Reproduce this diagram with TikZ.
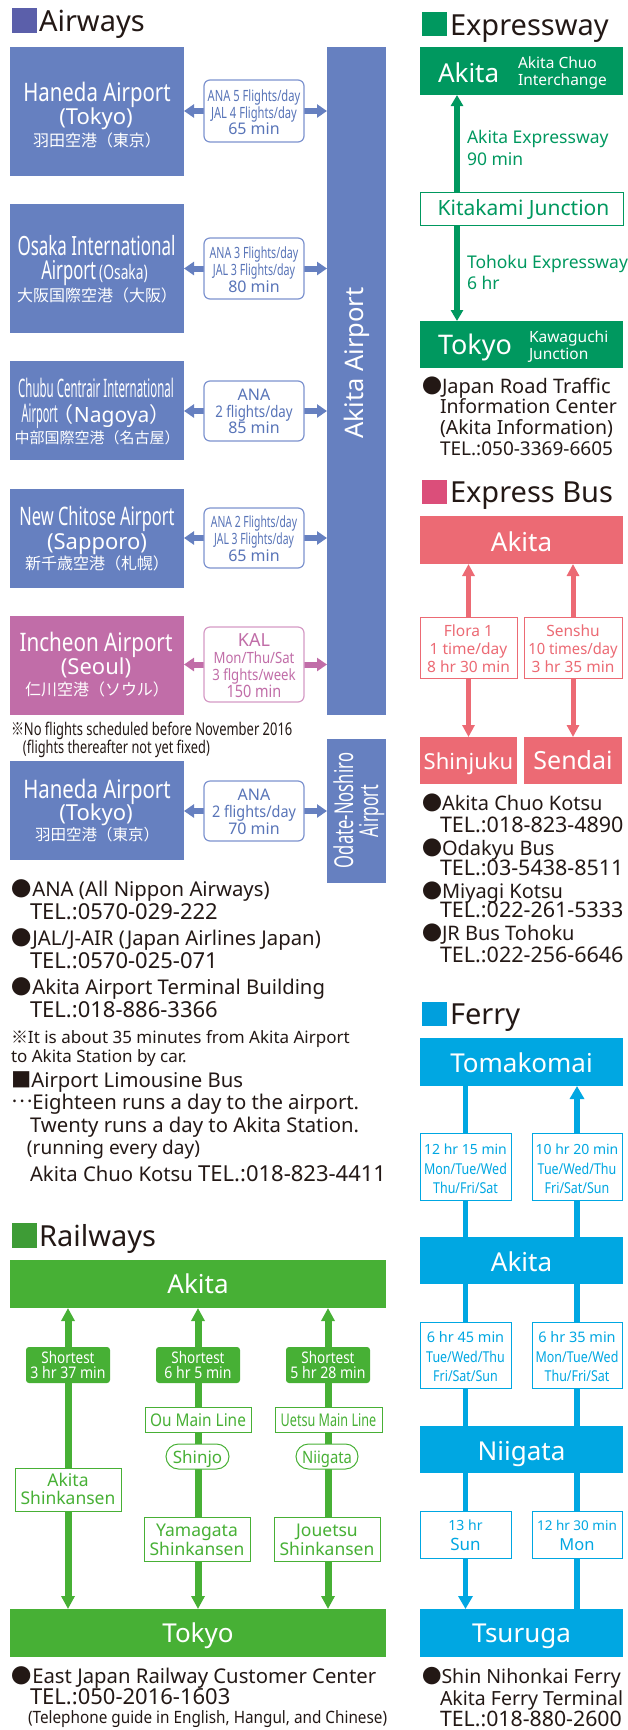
\documentclass[tikz,border=0pt]{standalone}
\usepackage{fontspec}
\usepackage{graphicx}
\setmainfont{Noto Sans}
\newfontfamily\jp{Noto Sans CJK JP}
\usetikzlibrary{arrows.meta}
\pgfdeclarelayer{bg}
\pgfsetlayers{bg,main}
\definecolor{ink}{HTML}{231815}
\definecolor{airsq}{HTML}{5B5FAA}
\definecolor{airblue}{HTML}{6680C0}
\definecolor{airline}{HTML}{7D93CF}
\definecolor{airtext}{HTML}{5874B8}
\definecolor{inch}{HTML}{C16DA8}
\definecolor{inchline}{HTML}{D59AC5}
\definecolor{exg}{HTML}{00985F}
\definecolor{bus}{HTML}{EC6A74}
\definecolor{bussq}{HTML}{DB4E7A}
\definecolor{ferry}{HTML}{00A7E2}
\definecolor{ferrysq}{HTML}{009FDD}
\definecolor{rail}{HTML}{47B035}
\definecolor{railsq}{HTML}{3E9C36}
\newcommand\fs[1]{\fontsize{#1}{#1}\selectfont}
\newcommand\hs[2]{\scalebox{#1}[1]{#2}}
\newcommand\bul{\smash{\jp ●}}
\tikzset{
 every node/.style={inner sep=0pt,outer sep=0pt},
 T/.style={anchor=base west,text=ink},
 C/.style={anchor=base},
 W/.style={anchor=base,text=white},
 box/.style={anchor=north west,fill=#1},
 obox/.style={anchor=north west,fill=white,draw=#1,line width=1pt},
 ibox/.style={anchor=north west,fill=white,draw=#1,line width=1.2pt,rounded corners=6pt},
 sq/.style={anchor=north west,fill=#1,minimum width=25pt,minimum height=24pt},
 airarr/.style={line width=6pt,draw=#1,{Triangle[width=13pt,length=10pt]}-{Triangle[width=13pt,length=10pt]}},
 exarr/.style={line width=6pt,draw=exg},
 busarr/.style={line width=5pt,draw=bus,{Triangle[width=12pt,length=12pt]}-{Triangle[width=12pt,length=12pt]}},
 ferryline/.style={line width=5.5pt,draw=ferry},
 railarr/.style={line width=7pt,draw=rail,{Triangle[width=13pt,length=13pt]}-{Triangle[width=13pt,length=13pt]}},
}
\begin{document}
\begin{tikzpicture}[x=1pt,y=-1pt]
\useasboundingbox (0,0) rectangle (627,1730);
% ================= Airways =================
\node[sq=airsq,minimum height=25pt] (airsq) at (12,8) {};
\node[T,font=\fs{29}] (airh) at (39,31) {Airways};
\node[box=airblue,minimum width=59pt,minimum height=668pt] (akbar) at (327,47) {};
\node[W,rotate=90,font=\fs{25.5}] (akbart) at (363,363) {Akita Airport};
\node[box=airblue,minimum width=59pt,minimum height=144pt] (odbar) at (327,739) {};
\node[W,rotate=90,font=\fs{26}] (odbart1) at (353,810.5) {\hs{0.64}{Odate-Noshiro}};
\node[W,rotate=90,font=\fs{26}] (odbart2) at (378,811) {\hs{0.61}{Airport}};
% Haneda
\node[box=airblue,minimum width=174pt,minimum height=129pt] (hnd) at (10,47) {};
\node[W,font=\fs{25.5}] (hnd1) at (97,101) {\hs{0.80}{Haneda Airport}};
\node[W,font=\fs{22}] (hnd2) at (96,124) {(Tokyo)};
\node[W,font=\jp\fs{16}] (hnd3) at (97,146) {羽田空港（東京）};
% Osaka
\node[box=airblue,minimum width=174pt,minimum height=129pt] (osk) at (10,204) {};
\node[W,font=\fs{26.5}] (osk1) at (96.5,255) {\hs{0.64}{Osaka International}};
\node[W] (osk2) at (94.5,279) {{\fs{26}\hs{0.64}{Airport}}\hspace{3pt}{\fs{20}\hs{0.69}{(Osaka)}}};
\node[W,font=\jp\fs{16}] (osk3) at (97,301.5) {大阪国際空港（大阪）};
% Chubu
\node[box=airblue,minimum width=174pt,minimum height=99pt] (chb) at (10,361) {};
\node[W,font=\fs{25.5}] (chb1) at (96,397) {\hs{0.45}{Chubu Centrair International}};
\node[W] (chb2) at (96,422) {{\fs{25.5}\hs{0.43}{Airport}}{\jp\fs{21}\hspace{-5pt}\smash{（}}{\fs{21}Nagoya}{\jp\fs{21}\smash{）}}};
\node[W,font=\jp\fs{15}] (chb3) at (97,443.5) {中部国際空港（名古屋）};
% New Chitose
\node[box=airblue,minimum width=174pt,minimum height=99pt] (nct) at (10,489) {};
\node[W,font=\fs{25.5}] (nct1) at (97,525) {\hs{0.645}{New Chitose Airport}};
\node[W,font=\fs{22}] (nct2) at (97,549) {(Sapporo)};
\node[W,font=\jp\fs{16}] (nct3) at (97,569.5) {新千歳空港（札幌）};
% Incheon
\node[box=inch,minimum width=174pt,minimum height=99pt] (inc) at (10,616) {};
\node[W,font=\fs{25.5}] (inc1) at (96,651) {\hs{0.81}{Incheon Airport}};
\node[W,font=\fs{22}] (inc2) at (96,674) {(Seoul)};
\node[W,font=\jp\fs{16}] (inc3) at (97,695.5) {仁川空港（ソウル）};
% Haneda 2
\node[box=airblue,minimum width=174pt,minimum height=99pt] (hnb) at (10,761) {};
\node[W,font=\fs{25.5}] (hnb1) at (97,798) {\hs{0.80}{Haneda Airport}};
\node[W,font=\fs{22}] (hnb2) at (96,820) {(Tokyo)};
\node[W,font=\jp\fs{15.5}] (hnb3) at (97,840.5) {羽田空港（東京）};
% info boxes
\node[ibox=airline,minimum width=100pt,minimum height=62pt] (inf1) at (204,80) {};
\node[C,text=airtext,font=\fs{15.5}] (inf1a) at (254,101) {\hs{0.72}{ANA 5 Flights/day}};
\node[C,text=airtext,font=\fs{15.5}] (inf1b) at (254,118) {\hs{0.72}{JAL 4 Flights/day}};
\node[C,text=airtext,font=\fs{16}] (inf1c) at (254,134) {65 min};
\node[ibox=airline,minimum width=100pt,minimum height=61pt] (inf2) at (204,238) {};
\node[C,text=airtext,font=\fs{15.5}] (inf2a) at (254,258) {\hs{0.69}{ANA 3 Flights/day}};
\node[C,text=airtext,font=\fs{15.5}] (inf2b) at (254,275) {\hs{0.69}{JAL 3 Flights/day}};
\node[C,text=airtext,font=\fs{16}] (inf2c) at (254,292) {80 min};
\node[ibox=airline,minimum width=100pt,minimum height=60pt] (inf3) at (204,381) {};
\node[C,text=airtext,font=\fs{16}] (inf3a) at (254,400) {ANA};
\node[C,text=airtext,font=\fs{16}] (inf3b) at (254,417) {\hs{0.83}{2 flights/day}};
\node[C,text=airtext,font=\fs{16}] (inf3c) at (254,433) {85 min};
\node[ibox=airline,minimum width=100pt,minimum height=60pt] (inf4) at (204,508) {};
\node[C,text=airtext,font=\fs{15.5}] (inf4a) at (254,527) {\hs{0.67}{ANA 2 Flights/day}};
\node[C,text=airtext,font=\fs{15.5}] (inf4b) at (254,544) {\hs{0.67}{JAL 3 Flights/day}};
\node[C,text=airtext,font=\fs{16}] (inf4c) at (254,561) {65 min};
\node[ibox=inchline,minimum width=100pt,minimum height=75pt] (inf5) at (204,627) {};
\node[C,text=inch,font=\fs{18}] (inf5a) at (254,646) {KAL};
\node[C,text=inch,font=\fs{15.5}] (inf5b) at (254,663) {\hs{0.85}{Mon/Thu/Sat}};
\node[C,text=inch,font=\fs{15.5}] (inf5c) at (254,680) {\hs{0.85}{3 flghts/week}};
\node[C,text=inch,font=\fs{17}] (inf5d) at (254,697) {\hs{0.85}{150 min}};
\node[ibox=airline,minimum width=100pt,minimum height=60pt] (inf6) at (204,781) {};
\node[C,text=airtext,font=\fs{16}] (inf6a) at (254,800) {ANA};
\node[C,text=airtext,font=\fs{16}] (inf6b) at (254,817) {\hs{0.9}{2 flights/day}};
\node[C,text=airtext,font=\fs{16}] (inf6c) at (254,834) {70 min};
% notes
\node[T,font=\fs{17.5}] (note1) at (11,735) {\hs{0.74}{{\jp ※}No flights scheduled before November 2016}};
\node[T,font=\fs{17.5}] (note2) at (23,753) {\hs{0.73}{(flights thereafter not yet fixed)}};
% contacts
\node[T,font=\fs{20.3}] (c1) at (12,896) {\bul ANA (All Nippon Airways)};
\node[T,font=\fs{22}] (c2) at (30,919) {TEL.:0570-029-222};
\node[T,font=\fs{20.3}] (c3) at (12,945) {\bul JAL/J-AIR (Japan Airlines Japan)};
\node[T,font=\fs{22}] (c4) at (30,968) {TEL.:0570-025-071};
\node[T,font=\fs{20.3}] (c5) at (12,994) {\bul Akita Airport Terminal Building};
\node[T,font=\fs{22}] (c6) at (30,1017) {TEL.:018-886-3366};
\node[T,font=\fs{17}] (c7) at (11,1043) {{\jp ※}It is about 35 minutes from Akita Airport};
\node[T,font=\fs{17}] (c8) at (11,1062) {to Akita Station by car.};
\node[T,font=\fs{20.3}] (c9) at (11,1087) {{\jp ■}Airport Limousine Bus};
\node[T,font=\fs{20.3}] (c10) at (11,1109) {{\jp\raisebox{0.3em}{…}}Eighteen runs a day to the airport.};
\node[T,font=\fs{20.3}] (c11) at (30,1132) {Twenty runs a day to Akita Station.};
\node[T,font=\fs{19}] (c12) at (27,1154) {(running every day)};
\node[T,font=\fs{20.3}] (c13) at (30,1181) {Akita Chuo Kotsu {\fs{22}TEL.:018-823-4411}};
% ================= Railways =================
\node[sq=railsq,minimum height=25pt] (railsq) at (12,1223) {};
\node[T,font=\fs{29}] (railh) at (39,1246) {Railways};
\node[box=rail,minimum width=376pt,minimum height=48pt] (rak) at (10,1260) {};
\node[W,font=\fs{26}] (rakt) at (198,1293) {Akita};
\node[box=rail,minimum width=376pt,minimum height=48pt] (rtk) at (10,1609) {};
\node[W,font=\fs{26}] (rtkt) at (198,1642) {Tokyo};
\node[box=rail,rounded corners=3pt,minimum width=84pt,minimum height=36pt] (sh1) at (26,1347) {};
\node[box=rail,rounded corners=3pt,minimum width=84pt,minimum height=36pt] (sh2) at (156,1347) {};
\node[box=rail,rounded corners=3pt,minimum width=84pt,minimum height=36pt] (sh3) at (286,1347) {};
\node[W,font=\fs{16}] (sh1a) at (68,1363) {\hs{0.84}{Shortest}};
\node[W,font=\fs{16}] (sh1b) at (68,1378) {\hs{0.88}{3 hr 37 min}};
\node[W,font=\fs{16}] (sh2a) at (198,1363) {\hs{0.84}{Shortest}};
\node[W,font=\fs{16}] (sh2b) at (198,1378) {\hs{0.88}{6 hr 5 min}};
\node[W,font=\fs{16}] (sh3a) at (328,1363) {\hs{0.84}{Shortest}};
\node[W,font=\fs{16}] (sh3b) at (328,1378) {\hs{0.88}{5 hr 28 min}};
\node[obox=rail,minimum width=106pt,minimum height=25pt] (ou) at (145,1407) {};
\node[C,text=rail,font=\fs{17.5}] (out) at (198,1426) {\hs{0.88}{Ou Main Line}};
\node[obox=rail,minimum width=107pt,minimum height=25pt] (ue) at (275,1407) {};
\node[C,text=rail,font=\fs{17.5}] (uet) at (328.5,1426) {\hs{0.72}{Uetsu Main Line}};
\node[obox=rail,rounded corners=12.5pt,minimum width=63pt,minimum height=25pt] (sj) at (166,1444) {};
\node[C,text=rail,font=\fs{17}] (sjt) at (197.5,1463) {Shinjo};
\node[obox=rail,rounded corners=12.5pt,minimum width=62pt,minimum height=25pt] (ng) at (296,1444) {};
\node[C,text=rail,font=\fs{17}] (ngt) at (327,1463) {\hs{0.87}{Niigata}};
\node[obox=rail,minimum width=106pt,minimum height=43pt] (aks) at (15,1468) {};
\node[C,text=rail,font=\fs{17.5}] (aks1) at (68,1486) {Akita};
\node[C,text=rail,font=\fs{17.5}] (aks2) at (68,1504) {Shinkansen};
\node[obox=rail,minimum width=106pt,minimum height=44pt] (yam) at (144,1517) {};
\node[C,text=rail,font=\fs{17.5}] (yam1) at (197,1536) {Yamagata};
\node[C,text=rail,font=\fs{17.5}] (yam2) at (197,1555) {Shinkansen};
\node[obox=rail,minimum width=106pt,minimum height=44pt] (jou) at (274,1517) {};
\node[C,text=rail,font=\fs{17.5}] (jou1) at (327,1536) {Jouetsu};
\node[C,text=rail,font=\fs{17.5}] (jou2) at (327,1555) {Shinkansen};
\node[T,font=\fs{20.3}] (r1) at (12,1683) {\bul East Japan Railway Customer Center};
\node[T,font=\fs{22}] (r2) at (30,1704) {TEL.:050-2016-1603};
\node[T,font=\fs{17}] (r3) at (28,1723) {\hs{0.9}{(Telephone guide in English, Hangul, and Chinese)}};
% ================= Expressway =================
\node[sq=exg] (exsq) at (422,12) {};
\node[T,font=\fs{29}] (exh) at (450,35) {Expressway};
\node[box=exg,minimum width=203pt,minimum height=48pt] (exak) at (420,47) {};
\node[T,text=white,font=\fs{26}] (exak1) at (438,82) {Akita};
\node[T,text=white,font=\fs{15.5}] (exak2) at (518,68) {Akita Chuo};
\node[T,text=white,font=\fs{15.5}] (exak3) at (518,85) {Interchange};
\node[obox=exg,minimum width=203pt,minimum height=33pt] (kit) at (420,192) {};
\node[C,text=exg,font=\fs{21}] (kitt) at (523.5,215) {Kitakami Junction};
\node[box=exg,minimum width=203pt,minimum height=47pt] (extk) at (420,321) {};
\node[T,text=white,font=\fs{27}] (extk1) at (438,354) {Tokyo};
\node[T,text=white,font=\fs{15.5}] (extk2) at (529,342) {Kawaguchi};
\node[T,text=white,font=\fs{15.5}] (extk3) at (529,359) {Junction};
\node[T,text=exg,font=\fs{17.5}] (exl1) at (467,143) {Akita Expressway};
\node[T,text=exg,font=\fs{17.5}] (exl2) at (467,165) {90 min};
\node[T,text=exg,font=\fs{17.5}] (exl3) at (467,268) {Tohoku Expressway};
\node[T,text=exg,font=\fs{17.5}] (exl4) at (467,289) {6 hr};
\node[T,font=\fs{20}] (e1) at (422,393) {\bul Japan Road Traffic};
\node[T,font=\fs{19.5}] (e2) at (440,413) {Information Center};
\node[T,font=\fs{19.5}] (e3) at (440,434) {(Akita Information)};
\node[T,font=\fs{19}] (e4) at (440,455) {TEL.:050-3369-6605};
% ================= Express Bus =================
\node[sq=bussq] (bussq) at (422,480) {};
\node[T,font=\fs{29}] (bush) at (450,502) {Express Bus};
\node[box=bus,minimum width=203pt,minimum height=48pt] (bak) at (420,516) {};
\node[W,font=\fs{26}] (bakt) at (521.5,551) {Akita};
\node[obox=bus,minimum width=97pt,minimum height=61pt] (bi1) at (420,617) {};
\node[obox=bus,minimum width=98pt,minimum height=61pt] (bi2) at (524,617) {};
\node[C,text=bus,font=\fs{15.5}] (bi1a) at (468.5,636) {Flora 1};
\node[C,text=bus,font=\fs{15.5}] (bi1b) at (468.5,654) {1 time/day};
\node[C,text=bus,font=\fs{15.5}] (bi1c) at (468.5,672) {8 hr 30 min};
\node[C,text=bus,font=\fs{15.5}] (bi2a) at (573,636) {Senshu};
\node[C,text=bus,font=\fs{15.5}] (bi2b) at (573,654) {\hs{0.95}{10 times/day}};
\node[C,text=bus,font=\fs{15.5}] (bi2c) at (573,672) {3 hr 35 min};
\node[box=bus,minimum width=97pt,minimum height=47pt] (shj) at (420,737) {};
\node[W,font=\fs{22}] (shjt) at (468.5,769) {Shinjuku};
\node[box=bus,minimum width=98pt,minimum height=47pt] (snd) at (524,737) {};
\node[W,font=\fs{25}] (sndt) at (573,769) {Sendai};
\node[T,font=\fs{20}] (b1) at (422,810) {\bul Akita Chuo Kotsu};
\node[T,font=\fs{21.5}] (b2) at (440,832) {TEL.:018-823-4890};
\node[T,font=\fs{20}] (b3) at (422,855) {\bul Odakyu Bus};
\node[T,font=\fs{21.5}] (b4) at (440,875) {TEL.:03-5438-8511};
\node[T,font=\fs{20}] (b5) at (422,898) {\bul Miyagi Kotsu};
\node[T,font=\fs{21.5}] (b6) at (440,917) {TEL.:022-261-5333};
\node[T,font=\fs{20}] (b7) at (422,940) {\bul JR Bus Tohoku};
\node[T,font=\fs{21.5}] (b8) at (440,962) {TEL.:022-256-6646};
% ================= Ferry =================
\node[sq=ferrysq] (fsq) at (422,1002) {};
\node[T,font=\fs{29}] (fh) at (450,1024) {Ferry};
\node[box=ferry,minimum width=203pt,minimum height=48pt] (tom) at (420,1038) {};
\node[W,font=\fs{26}] (tomt) at (521.5,1072) {Tomakomai};
\node[box=ferry,minimum width=203pt,minimum height=47pt] (fak) at (420,1237) {};
\node[W,font=\fs{26}] (fakt) at (521.5,1271) {Akita};
\node[box=ferry,minimum width=203pt,minimum height=47pt] (nii) at (420,1426) {};
\node[W,font=\fs{26}] (niit) at (521.5,1460) {Niigata};
\node[box=ferry,minimum width=203pt,minimum height=48pt] (tsu) at (420,1609) {};
\node[W,font=\fs{26}] (tsut) at (521.5,1642) {Tsuruga};
\node[obox=ferry,minimum width=91pt,minimum height=67pt] (f1l) at (420,1133) {};
\node[obox=ferry,minimum width=90pt,minimum height=67pt] (f1r) at (532,1133) {};
\node[obox=ferry,minimum width=91pt,minimum height=66pt] (f2l) at (420,1322) {};
\node[obox=ferry,minimum width=90pt,minimum height=66pt] (f2r) at (532,1322) {};
\node[obox=ferry,minimum width=91pt,minimum height=47pt] (f3l) at (420,1511) {};
\node[obox=ferry,minimum width=90pt,minimum height=47pt] (f3r) at (532,1511) {};
\node[C,text=ferry,font=\fs{14}] (f1la) at (465.5,1154) {12 hr 15 min};
\node[C,text=ferry,font=\fs{15}] (f1lb) at (465.5,1174) {\hs{0.83}{Mon/Tue/Wed}};
\node[C,text=ferry,font=\fs{15}] (f1lc) at (465.5,1193) {\hs{0.83}{Thu/Fri/Sat}};
\node[C,text=ferry,font=\fs{14}] (f1ra) at (577,1154) {10 hr 20 min};
\node[C,text=ferry,font=\fs{15}] (f1rb) at (577,1174) {\hs{0.83}{Tue/Wed/Thu}};
\node[C,text=ferry,font=\fs{15}] (f1rc) at (577,1193) {\hs{0.83}{Fri/Sat/Sun}};
\node[C,text=ferry,font=\fs{14.5}] (f2la) at (465.5,1342) {6 hr 45 min};
\node[C,text=ferry,font=\fs{15}] (f2lb) at (465.5,1362) {\hs{0.83}{Tue/Wed/Thu}};
\node[C,text=ferry,font=\fs{15}] (f2lc) at (465.5,1381) {\hs{0.83}{Fri/Sat/Sun}};
\node[C,text=ferry,font=\fs{14.5}] (f2ra) at (577,1342) {6 hr 35 min};
\node[C,text=ferry,font=\fs{15}] (f2rb) at (577,1362) {\hs{0.83}{Mon/Tue/Wed}};
\node[C,text=ferry,font=\fs{15}] (f2rc) at (577,1381) {\hs{0.83}{Thu/Fri/Sat}};
\node[C,text=ferry,font=\fs{14}] (f3la) at (465.5,1530) {13 hr};
\node[C,text=ferry,font=\fs{17}] (f3lb) at (465.5,1550) {Sun};
\node[C,text=ferry,font=\fs{13.5}] (f3ra) at (577,1530) {12 hr 30 min};
\node[C,text=ferry,font=\fs{16.5}] (f3rb) at (577,1550) {Mon};
\node[T,font=\fs{19.5}] (fc1) at (422,1683) {\bul Shin Nihonkai Ferry};
\node[T,font=\fs{19.5}] (fc2) at (440,1705) {Akita Ferry Terminal};
\node[T,font=\fs{21.3}] (fc3) at (440,1726) {TEL.:018-880-2600};
% ================= connectors =================
\begin{pgfonlayer}{bg}
\foreach \i/\a/\b in {inf1/hnd/akbar,inf2/osk/akbar,inf3/chb/akbar,inf4/nct/akbar,inf6/hnb/odbar}{
  \draw[airarr=airblue] (\i.center -| \a.east) -- (\i.center -| \b.west);}
\draw[airarr=inch] (inf5.center -| inc.east) -- (inf5.center -| akbar.west);
\draw[exarr,{Triangle[width=12pt,length=11pt]}-] ([xshift=37pt]exak.south west) -- ([xshift=37pt]kit.north west);
\draw[exarr,-{Triangle[width=12pt,length=11pt]}] ([xshift=37pt]kit.south west) -- ([xshift=37pt]extk.north west);
\draw[busarr] (bi1.center |- bak.south) -- (bi1.center |- shj.north);
\draw[busarr] (bi2.center |- bak.south) -- (bi2.center |- snd.north);
\draw[ferryline,-{Triangle[width=14pt,length=13pt]}] (f1l.center |- tom.south) -- (f1l.center |- tsu.north);
\draw[ferryline,{Triangle[width=14pt,length=13pt]}-] (f1r.center |- tom.south) -- (f1r.center |- tsu.north);
\draw[railarr] (sh1.center |- rak.south) -- (sh1.center |- rtk.north);
\draw[railarr] (sh2.center |- rak.south) -- (sh2.center |- rtk.north);
\draw[railarr] (sh3.center |- rak.south) -- (sh3.center |- rtk.north);
\end{pgfonlayer}
\end{tikzpicture}
\end{document}
